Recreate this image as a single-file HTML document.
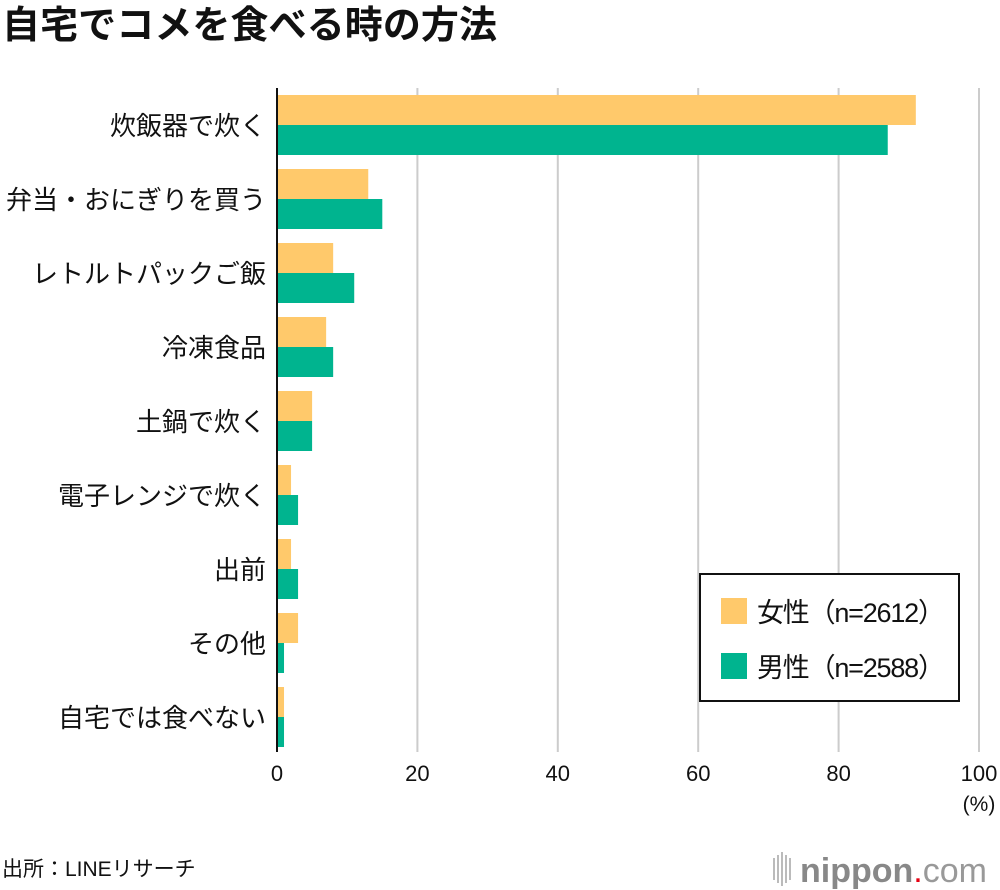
<!DOCTYPE html>
<html><head><meta charset="utf-8">
<style>
body{margin:0;background:#fff;}
svg{display:block;font-family:"Liberation Sans","Noto Sans CJK JP",sans-serif;}
</style></head>
<body>
<svg id="chart" width="1000" height="890" viewBox="0 0 1000 890">
<text x="2" y="38" font-size="38" font-weight="bold" fill="#111" textLength="495">自宅でコメを食べる時の方法</text>
<g id="grid"></g>
<g id="bars"></g>
<g id="axis"></g>
<g id="labels"></g>
<g id="ticks"></g>
<text x="979" y="811" font-size="21" text-anchor="middle" fill="#111">(%)</text>
<g>
<rect x="700" y="574" width="259" height="127" fill="#fff" stroke="#111" stroke-width="2"/>
<rect x="721" y="598" width="26" height="26" fill="#ffc96b"/>
<text x="757" y="622" font-size="27" fill="#111" textLength="188">女性（n=2612）</text>
<rect x="721" y="653" width="26" height="26" fill="#00b48f"/>
<text x="757" y="677" font-size="27" fill="#111" textLength="188">男性（n=2588）</text>
</g>
<text x="2" y="876" font-size="21" fill="#111">出所：LINEリサーチ</text>
<g>
<g fill="#bbb"><rect x="773" y="858" width="2" height="22"/><rect x="777" y="855" width="2" height="28"/><rect x="781" y="852" width="2" height="34"/><rect x="785" y="855" width="2" height="28"/><rect x="789" y="858" width="2" height="22"/></g>
<text x="800" y="882" font-size="34" fill="#888"><tspan font-weight="bold">nippon</tspan><tspan fill="#e60012">.</tspan><tspan fill="#999">com</tspan></text>
</g>
</svg>
<script>
const categories=["炊飯器で炊く","弁当・おにぎりを買う","レトルトパックご飯","冷凍食品","土鍋で炊く","電子レンジで炊く","出前","その他","自宅では食べない"];
const femaleValues=[91,13,8,7,5,2,2,3,1];
const maleValues=[87,15,11,8,5,3,3,1,1];
const tickValues=[0,20,40,60,80,100];
const NS="http://www.w3.org/2000/svg";
const x0=277,x1=979,top0=95,pitch=74,barH=30;
const xs=v=>x0+(x1-x0)*v/100;
function mk(t,a,p){const e=document.createElementNS(NS,t);for(const k in a)e.setAttribute(k,a[k]);p.appendChild(e);return e;}
const grid=document.getElementById('grid'),bars=document.getElementById('bars'),axis=document.getElementById('axis'),labels=document.getElementById('labels'),ticks=document.getElementById('ticks');
tickValues.forEach(v=>{
 const l=mk('line',{x1:xs(v),x2:xs(v),y1:88,y2:752,stroke:v===0?'#111':'#ccc','stroke-width':2},v===0?axis:grid);
 
 
 const t=mk('text',{x:xs(v),y:781,'font-size':22,'text-anchor':'middle',fill:'#111'},ticks);
 t.textContent=v;
 
 
});
categories.forEach((c,i)=>{
 const y=top0+i*pitch;
 const f=mk('rect',{x:x0,y:y,width:xs(femaleValues[i])-x0,height:barH,fill:'#ffc96b'},bars);
 
 
 const m=mk('rect',{x:x0,y:y+barH,width:xs(maleValues[i])-x0,height:barH,fill:'#00b48f'},bars);
 
 
 const t=mk('text',{x:266,y:y+barH+10,'font-size':26,'text-anchor':'end',fill:'#111'},labels);
 t.textContent=c;
 
 
});
</script>
</body></html>
